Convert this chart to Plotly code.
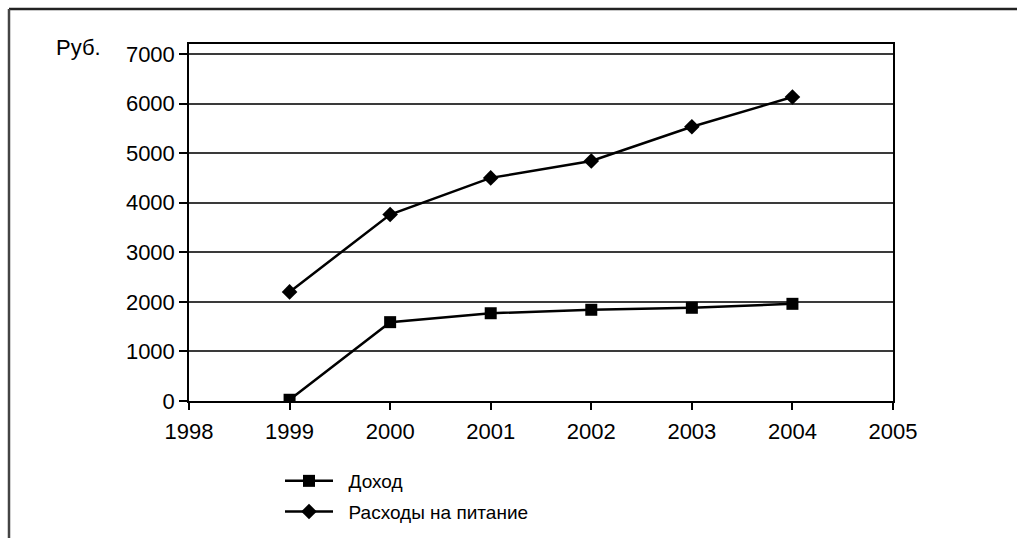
import plotly.graph_objects as go

# Годовые значения, руб.
years = [1999, 2000, 2001, 2002, 2003, 2004]
income = [25, 1590, 1770, 1840, 1880, 1960]
food_spending = [2200, 3760, 4500, 4840, 5530, 6130]

x_ticks = [1998, 1999, 2000, 2001, 2002, 2003, 2004, 2005]
y_ticks = [0, 1000, 2000, 3000, 4000, 5000, 6000, 7000]

W, H = 1017, 538
ML, MR, MT, MB = 189, 124, 44, 137
PW, PH = W - ML - MR, H - MT - MB

FONT = "Liberation Sans, Arial, sans-serif"
PAD = "\u00a0\u00a0"

fig = go.Figure()
fig.add_trace(go.Scatter(
    x=years, y=income, name=PAD + "Доход", mode="lines+markers",
    line=dict(color="black", width=2.5),
    marker=dict(symbol="square", size=12, color="black"),
    legendgroup="a",
))
fig.add_trace(go.Scatter(
    x=years, y=food_spending, name=PAD + "Расходы на питание", mode="lines+markers",
    line=dict(color="black", width=2.5),
    marker=dict(symbol="diamond", size=12, color="black"),
    legendgroup="b",
))

def px_x(p):
    return (p - ML) / PW

def px_y(p):
    return (H - MB - p) / PH

# рамка слева и сверху
fig.add_shape(type="line", xref="paper", yref="paper",
              x0=px_x(9), x1=px_x(1017), y0=px_y(9), y1=px_y(9),
              line=dict(color="#222", width=2.5))
fig.add_shape(type="line", xref="paper", yref="paper",
              x0=px_x(9), x1=px_x(9), y0=px_y(9), y1=px_y(540),
              line=dict(color="#444", width=2.5))

fig.add_annotation(text="Руб.", xref="paper", yref="paper",
                   x=px_x(54), y=px_y(33), xanchor="left", yanchor="top",
                   showarrow=False, font=dict(family=FONT, size=22, color="black"))

fig.update_layout(
    width=W, height=H,
    margin=dict(l=ML, r=MR, t=MT, b=MB, autoexpand=False),
    paper_bgcolor="white", plot_bgcolor="white",
    font=dict(family=FONT, size=22, color="black"),
    showlegend=True,
    legend=dict(
        x=px_x(280), y=px_y(462), xanchor="left", yanchor="top",
        font=dict(family=FONT, size=19, color="black"),
        traceorder="grouped", tracegroupgap=3,
        bgcolor="rgba(0,0,0,0)", itemwidth=48,
    ),
    xaxis=dict(
        range=[1998, 2005], tickvals=x_ticks, ticktext=[str(v) for v in x_ticks],
        showgrid=False, zeroline=False,
        showline=True, linecolor="black", linewidth=1.5, mirror=True,
        ticks="outside", ticklen=7, tickwidth=1.5, tickcolor="black",
        ticklabelstandoff=3,
    ),
    yaxis=dict(
        range=[0, 7200], tickvals=y_ticks, ticktext=[str(v) for v in y_ticks],
        showgrid=True, gridcolor="#3a3a3a", gridwidth=1.5, zeroline=False,
        showline=True, linecolor="black", linewidth=1.5, mirror=True,
        ticks="outside", ticklen=8, tickwidth=1.5, tickcolor="black",
    ),
)

fig.write_html("out.html")
